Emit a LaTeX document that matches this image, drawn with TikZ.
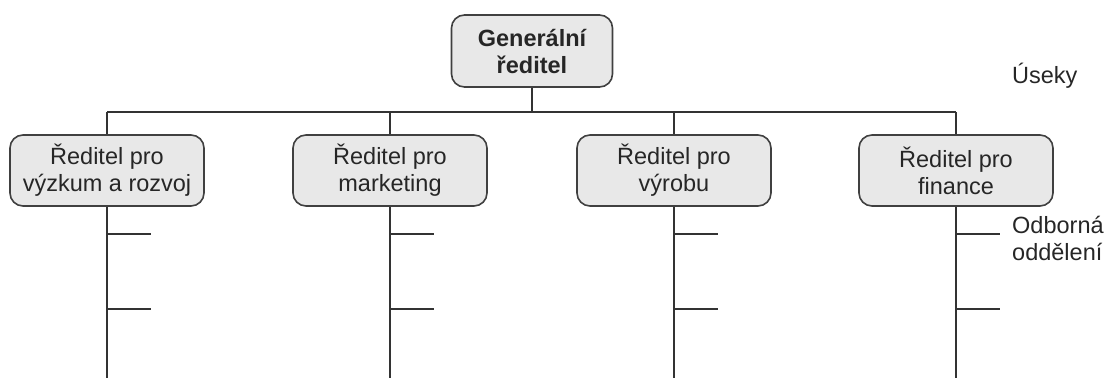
\documentclass[tikz,border=0pt]{standalone}
\usepackage{fontspec}
\setmainfont{Liberation Sans}
\tikzset{
  box/.style={draw=black!75, line width=1.6pt, fill=black!9, rounded corners=13pt,
    minimum width=194pt, minimum height=71pt, align=center, inner sep=0pt,
    font=\fontsize{23.5}{27}\selectfont, text=black!85},
  topbox/.style={box, minimum width=161pt, minimum height=72pt, font=\fontsize{23.5}{27}\selectfont\bfseries},
  conn/.style={draw=black!80, line width=1.6pt},
  lbl/.style={anchor=west, align=left, inner sep=0pt, font=\fontsize{23.5}{27}\selectfont, text=black!85}
}
\begin{document}
\begin{tikzpicture}[x=1pt,y=-1pt]
\useasboundingbox (0,0) rectangle (1111,378);
\node[topbox] (g) at (532,51) {Generální\\ředitel};
\node[box] (a) at (107,170.5) {Ředitel pro\\výzkum a rozvoj};
\node[box] (b) at (390,170.5) {Ředitel pro\\marketing};
\node[box] (c) at (674,170.5) {Ředitel pro\\výrobu};
\node[box] (d) at (956,170.5) {Ředitel pro\\finance};
\coordinate (j) at (532,112);
\coordinate (atop) at (107,112);
\coordinate (dtop) at (956,112);
\draw[conn] (g.south) -- (j);
\draw[conn] (atop) -- (dtop);
\foreach \n/\x in {a/107,b/390,c/674,d/956}{
  \coordinate (\n top) at (\x,112);
  \coordinate (\n bot) at (\x,378);
  \coordinate (\n s1) at (\x,234);
  \coordinate (\n s2) at (\x,309);
  \coordinate (\n e1) at (\x+44,234);
  \coordinate (\n e2) at (\x+44,309);
  \draw[conn] (\n top) -- (\n.north);
  \draw[conn] (\n.south) -- (\n bot);
  \draw[conn] (\n s1) -- (\n e1);
  \draw[conn] (\n s2) -- (\n e2);
}
\node[lbl] (u) at (1012,76) {Úseky};
\node[lbl] (o) at (1012,238) {Odborná\\oddělení};
\end{tikzpicture}
\end{document}
